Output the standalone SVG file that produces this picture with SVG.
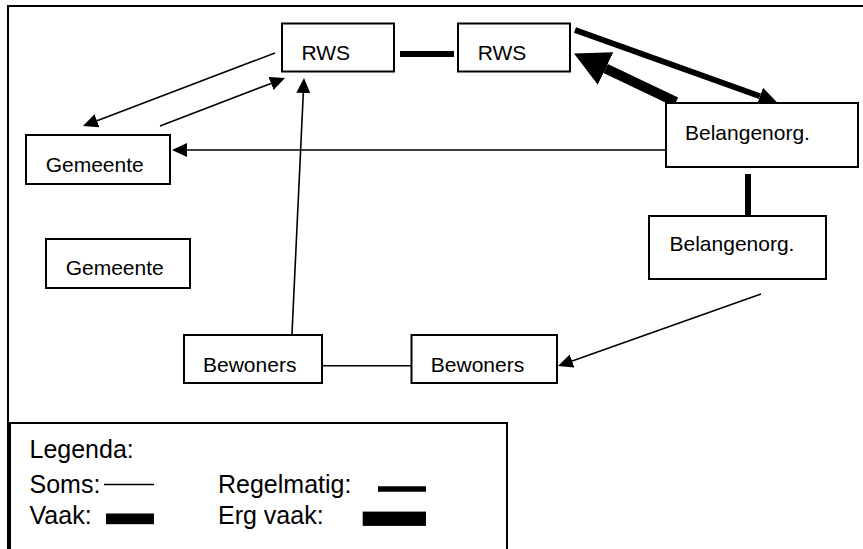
<svg xmlns="http://www.w3.org/2000/svg" width="863" height="549" viewBox="0 0 863 549">
<defs>
<style>
.box{fill:#fff;stroke:#000;stroke-width:2}
.lbl{font-family:"Liberation Sans",Arial,sans-serif;font-size:21px;fill:#000}
.leg{font-family:"Liberation Sans",Arial,sans-serif;font-size:25px;fill:#000}
.soms{stroke:#000;stroke-width:1.6;fill:none}
.regel{stroke:#000;stroke-width:6;fill:none}
.erg{stroke:#000;stroke-width:10;fill:none}
.frame{stroke:#000;stroke-width:2;fill:none}
</style>
<marker id="ah-s" markerUnits="userSpaceOnUse" markerWidth="16" markerHeight="14" refX="0" refY="7" orient="auto"><path d="M0,0 L15,7 L0,14 z" fill="#000"/></marker>
<marker id="ah-r" markerUnits="userSpaceOnUse" markerWidth="19" markerHeight="18" refX="0" refY="9" orient="auto"><path d="M0,0 L18,9 L0,18 z" fill="#000"/></marker>
<marker id="ah-e" markerUnits="userSpaceOnUse" markerWidth="36" markerHeight="36" refX="0" refY="18" orient="auto"><path d="M0,0 L35,18 L0,36 z" fill="#000"/></marker>
</defs>
<rect width="863" height="549" fill="#fff"/>
<g id="frame">
<path class="frame" d="M8,550 V6 H864"/>
</g>
<g id="connectors">
<line class="soms" x1="275" y1="53" x2="97" y2="120.7" marker-end="url(#ah-s)"/>
<line class="soms" x1="160" y1="126" x2="271" y2="83.4" marker-end="url(#ah-s)"/>
<line class="soms" x1="291.6" y1="341.7" x2="303.3" y2="93" marker-end="url(#ah-s)"/>
<line class="soms" x1="666" y1="150" x2="187" y2="150" marker-end="url(#ah-s)"/>
<line class="regel" x1="575" y1="30" x2="760" y2="96.2" marker-end="url(#ah-r)"/>
<line class="erg" x1="676" y1="102" x2="605.6" y2="68.5" marker-end="url(#ah-e)"/>
<line class="soms" x1="761" y1="294" x2="572.1" y2="361" marker-end="url(#ah-s)"/>
<line class="soms" x1="321.5" y1="365.7" x2="411.5" y2="365.7"/>
<line class="regel" x1="400" y1="54" x2="454" y2="54"/>
<line class="regel" x1="748" y1="174" x2="748" y2="221"/>
</g>
<g id="rws1"><rect class="box" x="282" y="23.5" width="112" height="48"/><text class="lbl" x="301.5" y="60">RWS</text></g>
<g id="rws2"><rect class="box" x="458" y="23.5" width="112" height="48"/><text class="lbl" x="477.7" y="60">RWS</text></g>
<g id="belang1"><rect class="box" x="666" y="103" width="192" height="64"/><text class="lbl" x="685" y="140">Belangenorg.</text></g>
<g id="belang2"><rect class="box" x="649" y="216" width="177" height="63"/><text class="lbl" x="669.5" y="251">Belangenorg.</text></g>
<g id="gemeente1"><rect class="box" x="26" y="135" width="144" height="49"/><text class="lbl" x="45.7" y="171.7">Gemeente</text></g>
<g id="gemeente2"><rect class="box" x="46" y="239" width="144" height="49"/><text class="lbl" x="65.7" y="275">Gemeente</text></g>
<g id="bewoners1"><rect class="box" x="184" y="335" width="138" height="48"/><text class="lbl" x="203" y="371.7">Bewoners</text></g>
<g id="bewoners2"><rect class="box" x="411.5" y="335" width="145.5" height="48"/><text class="lbl" x="430.8" y="371.7">Bewoners</text></g>
<g id="legend">
<path class="frame" d="M10,551 V423 H507 V551"/>
<text class="leg" x="29.5" y="458">Legenda:</text>
<text class="leg" x="29.5" y="493">Soms:</text>
<line class="soms" x1="104" y1="484.5" x2="154" y2="484.5"/>
<text class="leg" x="218" y="493">Regelmatig:</text>
<line x1="378" y1="489" x2="426" y2="489" stroke="#000" stroke-width="5.5"/>
<text class="leg" x="29.5" y="523.5">Vaak:</text>
<rect x="106" y="513.5" width="48" height="10.7" fill="#000"/>
<text class="leg" x="218" y="523.5">Erg vaak:</text>
<rect x="362.7" y="511.6" width="63.3" height="14.3" fill="#000"/>
</g>
</svg>
